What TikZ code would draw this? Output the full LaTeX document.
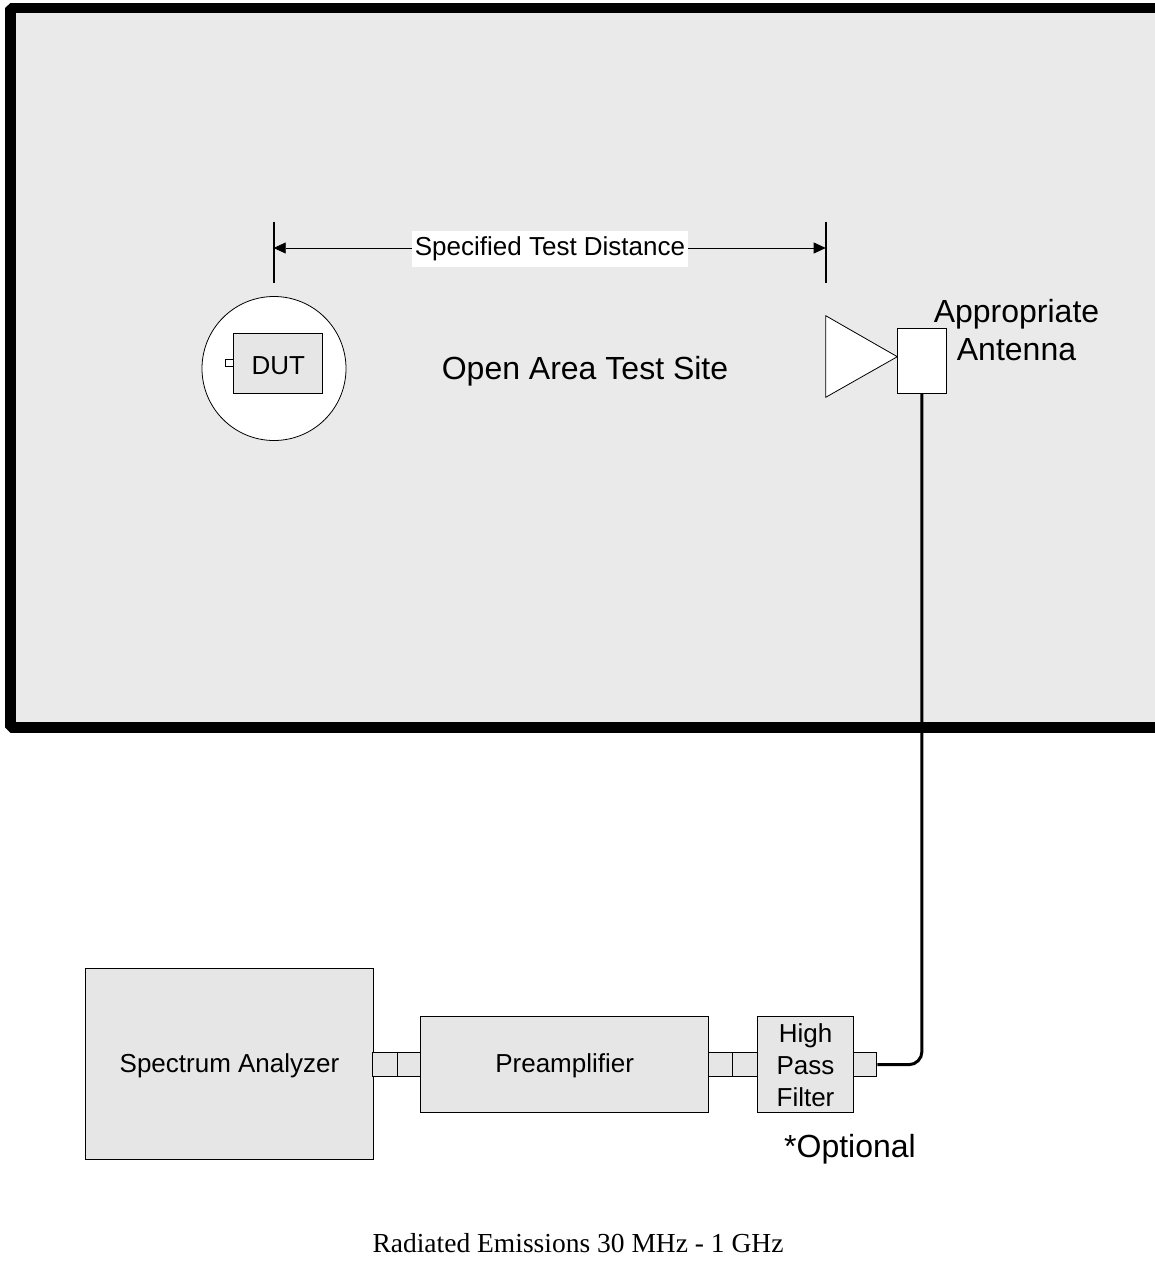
\documentclass[tikz,border=0pt]{standalone}
\usepackage{fontspec}
\setmainfont{Liberation Sans}
\newfontfamily\capfont{Liberation Serif}
\usetikzlibrary{arrows.meta}
\definecolor{sitebg}{HTML}{EAEAEA}
\definecolor{boxfill}{HTML}{E6E6E6}
\tikzset{
  graybox/.style={draw=black, line width=1pt, fill=boxfill, inner sep=0pt, anchor=north west},
  conn/.style={draw=black, line width=1pt, fill=boxfill, inner sep=0pt, anchor=north west, minimum height=23.7pt},
  lbl/.style={inner sep=0pt, align=center, font=\fontsize{26}{32}\selectfont},
  biglbl/.style={inner sep=0pt, align=center, font=\fontsize{32}{38}\selectfont},
  tick/.style={line width=2pt},
  dimarrow/.style={line width=0.8pt, -{Triangle[length=12pt, width=11pt]}},
}
\begin{document}
\begin{tikzpicture}[x=1pt, y=-1pt]
\useasboundingbox (0,0) rectangle (1155,1262);
% open area test site frame
\fill[sitebg] (10,8) rectangle (1155,727.5);
\draw[line width=10.5pt, line join=bevel] (1165,8) -- (10.3,8) -- (10.3,727.5) -- (1165,727.5);
% dimension
\coordinate (tl1) at (273.7,222); \coordinate (tl2) at (273.7,283);
\coordinate (tr1) at (825.7,222); \coordinate (tr2) at (825.7,283);
\draw[tick] (tl1) -- (tl2);
\draw[tick] (tr1) -- (tr2);
\coordinate (al) at (273.7,248);
\coordinate (ar) at (825.7,248);
\node[lbl, fill=white, inner xsep=3pt, inner ysep=6pt] (dist) at (550,249) {Specified Test Distance};
\draw[dimarrow] (dist.west |- al) -- (al);
\draw[dimarrow] (dist.east |- ar) -- (ar);
% DUT
\node[draw, line width=0.8pt, fill=white, circle, minimum size=144pt, inner sep=0pt] (turn) at (274,368.5) {};
\node[graybox, minimum width=89pt, minimum height=59.4pt] (dut) at (233.3,333.3) {};
\node[lbl] (dutlbl) at ([yshift=-2pt]dut.center) {DUT};
\node[draw, line width=0.8pt, fill=white, inner sep=0pt, minimum width=7.6pt, minimum height=7.4pt, anchor=east] (port) at (233.3,363) {};
% site label
\node[biglbl] (site) at (585,371) {Open Area Test Site};
% antenna
\draw[line width=0.8pt, fill=white] (825.7,315.7) -- (825.7,397.3) -- (897.3,356.7) -- cycle;
\node[draw, line width=0.8pt, fill=white, inner sep=0pt, minimum width=48.4pt, minimum height=64.4pt, anchor=north west] (ant) at (897.3,328.3) {};
\node[biglbl, anchor=base] (antlbl1) at (1016.5,322) {Appropriate};
\node[biglbl, anchor=base] (antlbl2) at (1016.5,360) {Antenna};
% instruments
\node[graybox, minimum width=288pt, minimum height=191pt] (sa) at (85,968) {};
\node[lbl] at ([yshift=-2pt]sa.center) {Spectrum Analyzer};
\node[conn, minimum width=24.4pt] (c1) at (372.3,1052.3) {};
\node[conn, minimum width=23.6pt] (c2) at (396.7,1052.3) {};
\node[graybox, minimum width=287.7pt, minimum height=96pt] (pre) at (420.3,1015.7) {};
\node[lbl] at ([yshift=-2pt]pre.center) {Preamplifier};
\node[conn, minimum width=24.3pt] (c3) at (708,1052.3) {};
\node[conn, minimum width=24.7pt] (c4) at (732.3,1052.3) {};
\node[graybox, minimum width=96pt, minimum height=96pt] (hpf) at (757,1015.7) {};
\node[lbl] at ([yshift=-1pt]hpf.center) {High\\Pass\\Filter};
\node[conn, minimum width=23.3pt] (c5) at (853,1052.3) {};
\node[biglbl] (opt) at (850,1149) {*Optional};
% cable
\draw[line width=3pt, rounded corners=13pt] (ant.south) |- (c5.east);
% caption
\node[inner sep=0pt, font=\capfont\fontsize{27.5}{32}\selectfont] (cap) at (578,1243) {Radiated Emissions 30 MHz - 1 GHz};
\end{tikzpicture}
\end{document}
